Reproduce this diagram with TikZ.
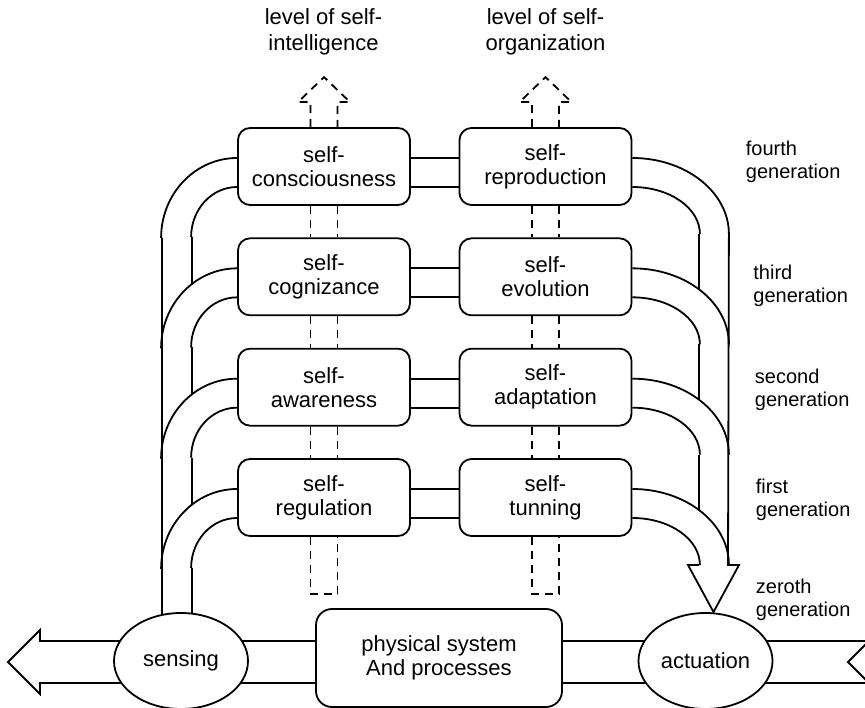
\documentclass[tikz,border=0pt]{standalone}
\usepackage{fontspec}
\setmainfont{Liberation Sans}
\usetikzlibrary{shapes.geometric,calc,backgrounds}
\begin{document}
\begin{tikzpicture}[x=1pt,y=-1pt,
  line width=1.8pt,
  every node/.style={font=\fontsize{22}{24}\selectfont, inner sep=0pt},
  box/.style={draw, fill=white, rounded corners=12pt, minimum width=172pt, minimum height=77pt, align=center},
  oval/.style={draw, fill=white, ellipse, minimum width=134pt, minimum height=96pt},
  lab/.style={align=left, anchor=west, font=\fontsize{20}{23}\selectfont},
  toplab/.style={align=center, font=\fontsize{22}{26}\selectfont},
  dsh/.style={dash pattern=on 8pt off 6pt},
  band/.style={line width=1.8pt},
  ]
\useasboundingbox (0,0) rectangle (865,708);

% boxes
\node[box] (L0) at (324,166.5) {self-\\consciousness};
\node[box] (L1) at (324,276.83) {self-\\cognizance};
\node[box] (L2) at (324,387.17) {self-\\awareness};
\node[box] (L3) at (324,497.5) {self-\\regulation};
\node[box] (R0) at (545.5,166.5) {self-\\reproduction};
\node[box] (R1) at (545.5,276.83) {self-\\evolution};
\node[box] (R2) at (545.5,387.17) {self-\\adaptation};
\node[box] (R3) at (545.5,497.5) {self-\\tunning};

\node[oval] (sense) at (181,661) {sensing};
\node[oval] (act) at (705.5,661) {actuation};
\node[box, minimum width=246pt, minimum height=98pt, rounded corners=16pt] (phys) at (439,658) {physical system\\And processes};

% labels
\node[toplab] (tl) at (323.5,32) {level of self-\\intelligence};
\node[toplab] (tr) at (545.5,32) {level of self-\\organization};
\node[lab] (g4) at (745,161.5) {fourth\\generation};
\node[lab] (g3) at (752.5,285.5) {third\\generation};
\node[lab] (g2) at (754,389.5) {second\\generation};
\node[lab] (g1) at (755,499.5) {first\\generation};
\node[lab] (g0) at (755,599.5) {zeroth\\generation};

% links between the two columns
\foreach \i in {0,...,3} {
  \draw ($(L\i.east)+(0,-8.5)$) -- ($(R\i.west)+(0,-8.5)$);
  \draw ($(L\i.east)+(0,20.5)$) -- ($(R\i.west)+(0,20.5)$);
}

% left curved band (sensing -> boxes)
\foreach \i in {0,...,3} {
  \draw ($(L\i.west)+(0,-8.5)$) arc[start angle=90,end angle=180,x radius=76pt,y radius=80pt];
  \draw ($(L\i.west)+(0,20.5)$) arc[start angle=90,end angle=180,x radius=46pt,y radius=50pt];
}
\draw (192,237) -- (192,284.6);
\draw (192,347.3) -- (192,394.9);
\draw (192,457.7) -- (192,505.3);

% right curved band (boxes -> actuation)
\foreach \i in {1,2,3} {
  \draw ($(R\i.east)+(0,-8.5)$) arc[start angle=90,end angle=0,x radius=96.5pt,y radius=76pt];
}
\foreach \i in {0,...,3} {
  \draw ($(R\i.east)+(0,20.5)$) arc[start angle=90,end angle=0,x radius=67.5pt,y radius=47pt];
}
\draw ($(R0.east)+(0,-8.5)$) arc[start angle=90,end angle=0,x radius=96.5pt,y radius=76pt]
   -- (728,565) -- (739,565) -- (713.5,612) -- (688,565) -- (699,565);
\draw (699,234) -- (699,290);
\draw (699,344.3) -- (699,400.4);
\draw (699,454.7) -- (699,510.7);

% dashed level arrows
\foreach \c in {L,R} {
  \draw[dsh] ($(\c0.north)+(-13.5,0)$) -- ($(\c0.north)+(-13.5,-25)$) -- ($(\c0.north)+(-26,-25)$)
     -- ($(\c0.north)+(0,-50)$) -- ($(\c0.north)+(26,-25)$) -- ($(\c0.north)+(13.5,-25)$) -- ($(\c0.north)+(13.5,0)$);
  \foreach \i/\j in {0/1,1/2,2/3} {
    \draw[dsh] ($(\c\i.south)+(-13.5,0)$) -- ($(\c\j.north)+(-13.5,0)$);
    \draw[dsh] ($(\c\i.south)+(13.5,0)$) -- ($(\c\j.north)+(13.5,0)$);
  }
  \draw[dsh] ($(\c3.south)+(-13.5,0)$) -- ($(\c3.south)+(-13.5,57)$) -- ($(\c3.south)+(13.5,57)$) -- ($(\c3.south)+(13.5,0)$);
}

\begin{pgfonlayer}{background}
  % stems into sensing
  \draw[band] (162,238) -- (162,661);
  \draw[band] (192,568) -- (192,661);
  % horizontal band
  \draw[band] ($(sense.center)+(0,-20)$) -- ($(act.center)+(0,-20)$) -- (865,641);
  \draw[band] ($(sense.center)+(0,22)$) -- ($(act.center)+(0,22)$) -- (865,683);
  % left output arrow
  \draw[band] ($(sense.center)+(0,-20)$) -- (40,641) -- (40,630) -- (8,662) -- (40,694) -- (40,683) -- ($(sense.center)+(0,22)$);
\end{pgfonlayer}
% right notch
\draw[band] (866,644) -- (848,662) -- (866,680);
\end{tikzpicture}
\end{document}
